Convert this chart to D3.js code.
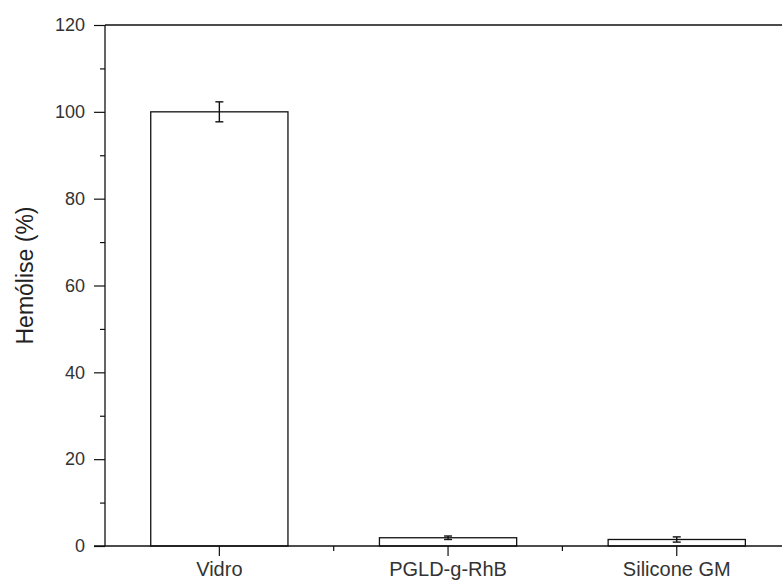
<!DOCTYPE html>
<html>
<head>
<meta charset="utf-8">
<script src="https://cdn.jsdelivr.net/npm/d3@7"></script>
<style>
  html, body { margin: 0; padding: 0; background: #fff; }
  svg { display: block; font-family: "Liberation Sans", Arial, sans-serif; }
</style>
</head>
<body>
<svg id="chart" width="782" height="585"></svg>
<script>
// Hemolysis results per sample (mean ± error)
const categories = ["Vidro", "PGLD-g-RhB", "Silicone GM"];
const hemolysis = [100, 1.9, 1.5];
const errors = [2.3, 0.4, 0.6];
const yTicks = [0, 20, 40, 60, 80, 100, 120];
const yMinorTicks = [10, 30, 50, 70, 90, 110];
const yTitle = "Hemólise (%)";

const svg = d3.select("#chart");
const plotLeft = 105, plotTop = 25, plotBottom = 546;
const bandWidth = 228.7;
const plotRight = plotLeft + bandWidth * categories.length;

const x = d3.scaleBand().domain(categories).range([plotLeft, plotRight]).paddingInner(0).paddingOuter(0);
const y = d3.scaleLinear().domain([0, 120]).range([plotBottom, plotTop]);
const barW = x.bandwidth() * 0.6;
const ink = "#111";

// Bars
svg.append("g").selectAll("rect").data(categories).join("rect")
  .attr("x", d => x(d) + (x.bandwidth() - barW) / 2)
  .attr("y", (d, i) => y(hemolysis[i]))
  .attr("width", barW)
  .attr("height", (d, i) => y(0) - y(hemolysis[i]))
  .attr("fill", "#fff")
  .attr("stroke", ink)
  .attr("stroke-width", 1.3);

// Error bars
const eb = svg.append("g").attr("stroke", ink).attr("stroke-width", 1.4);
categories.forEach((c, i) => {
  const cx = x(c) + x.bandwidth() / 2;
  const hi = y(hemolysis[i] + errors[i]), lo = y(hemolysis[i] - errors[i]);
  eb.append("line").attr("x1", cx).attr("x2", cx).attr("y1", hi).attr("y2", lo);
  eb.append("line").attr("x1", cx - 4).attr("x2", cx + 4).attr("y1", hi).attr("y2", hi);
  eb.append("line").attr("x1", cx - 4).attr("x2", cx + 4).attr("y1", lo).attr("y2", lo);
});

// Y axis (major ticks labelled, minor ticks short)
const yAxis = svg.append("g").attr("transform", `translate(${plotLeft},0)`)
  .call(d3.axisLeft(y).tickValues(yTicks).tickSize(11).tickPadding(9).tickFormat(d3.format("d")));
yAxis.select(".domain").remove();
yAxis.selectAll("line").attr("stroke", ink).attr("stroke-width", 1.2);
yAxis.selectAll("text").attr("font-size", 18).attr("fill", "#333").attr("font-family", "Liberation Sans, Arial, sans-serif");

const yMinor = svg.append("g").attr("transform", `translate(${plotLeft},0)`)
  .call(d3.axisLeft(y).tickValues(yMinorTicks).tickSize(5).tickFormat(""));
yMinor.select(".domain").remove();
yMinor.selectAll("line").attr("stroke", ink).attr("stroke-width", 1.2);

// X axis with category ticks and minor ticks between groups
const xAxis = svg.append("g").attr("transform", `translate(0,${plotBottom})`)
  .call(d3.axisBottom(x).tickSize(10).tickPadding(6));
xAxis.select(".domain").remove();
xAxis.selectAll("line").attr("stroke", ink).attr("stroke-width", 1.2);
xAxis.selectAll("text").attr("font-size", 20).attr("fill", "#333").attr("font-family", "Liberation Sans, Arial, sans-serif");

const boundaries = categories.slice(1).map(c => x(c));
svg.append("g").selectAll("line").data(boundaries).join("line")
  .attr("x1", d => d).attr("x2", d => d)
  .attr("y1", plotBottom).attr("y2", plotBottom + 5)
  .attr("stroke", ink).attr("stroke-width", 1.2);

// Frame: left, bottom and top lines
const frame = svg.append("g").attr("stroke", ink).attr("stroke-width", 1.3).attr("fill", "none");
frame.append("line").attr("x1", plotLeft).attr("x2", plotLeft).attr("y1", plotTop).attr("y2", plotBottom);
frame.append("line").attr("x1", plotLeft - 11).attr("x2", plotRight).attr("y1", plotBottom).attr("y2", plotBottom);
frame.append("line").attr("x1", plotLeft).attr("x2", plotRight).attr("y1", plotTop).attr("y2", plotTop);

// Y axis title
svg.append("text")
  .attr("transform", `translate(33,${(plotTop + plotBottom) / 2 - 10}) rotate(-90)`)
  .attr("text-anchor", "middle")
  .attr("font-size", 23)
  .attr("fill", "#222")
  .text(yTitle);
</script>
</body>
</html>
